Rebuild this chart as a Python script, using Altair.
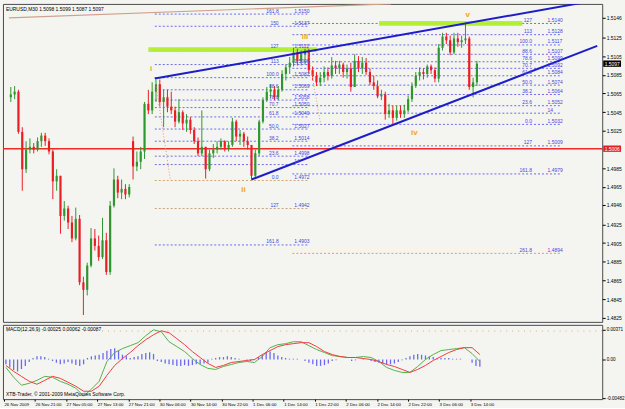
import altair as alt
import pandas as pd

FONT = "Liberation Sans"

# ---------------- hourly candles (EURUSD) ----------------
opens = [1.5061,1.5064,1.5067,1.5024,1.4984,1.5005,1.5008,1.5005,1.5014,1.5020,
         1.5014,1.5003,1.4971,1.4977,1.4934,1.4942,1.4927,1.4910,1.4931,1.4863,
         1.4855,1.4881,1.4910,1.4902,1.4890,1.4908,1.4874,1.4945,1.4973,1.4959,
         1.4963,1.4957,1.5014,1.4987,1.4992,1.5003,1.5054,1.5047,1.5067,1.5075,
         1.5056,1.5061,1.5051,1.5047,1.5035,1.5045,1.5033,1.5037,1.5026,1.5014,
         1.5001,1.5008,1.4984,1.5001,1.5005,1.5008,1.5014,1.5007,1.5010,1.5035,
         1.5019,1.5022,1.5014,1.5010,1.4977,1.5001,1.5035,1.5058,1.5067,1.5069,
         1.5061,1.5069,1.5086,1.5093,1.5098,1.5109,1.5100,1.5107,1.5111,1.5090,
         1.5084,1.5077,1.5082,1.5088,1.5084,1.5095,1.5092,1.5096,1.5088,1.5092,
         1.5072,1.5100,1.5092,1.5098,1.5088,1.5077,1.5073,1.5062,1.5064,1.5043,
         1.5047,1.5039,1.5047,1.5043,1.5047,1.5059,1.5073,1.5084,1.5088,1.5086,
         1.5094,1.5090,1.5081,1.5114,1.5126,1.5122,1.5109,1.5124,1.5120,1.5122,
         1.5124,1.5072,1.5077]
highs = [1.5072,1.5073,1.5069,1.5029,1.5014,1.5017,1.5012,1.5018,1.5023,1.5023,
         1.5017,1.5005,1.4984,1.4977,1.4950,1.4945,1.4934,1.4943,1.4935,1.4869,
         1.4884,1.4921,1.4920,1.4913,1.4932,1.4916,1.4950,1.4985,1.4977,1.4973,
         1.4968,1.4968,1.5019,1.5003,1.5008,1.5056,1.5069,1.5077,1.5080,1.5080,
         1.5069,1.5069,1.5067,1.5051,1.5059,1.5047,1.5043,1.5040,1.5029,1.5018,
         1.5047,1.5008,1.5005,1.5011,1.5014,1.5017,1.5015,1.5014,1.5039,1.5037,
         1.5026,1.5024,1.5019,1.5010,1.5005,1.5037,1.5061,1.5072,1.5075,1.5073,
         1.5073,1.5090,1.5096,1.5104,1.5114,1.5113,1.5111,1.5113,1.5113,1.5094,
         1.5088,1.5088,1.5094,1.5093,1.5104,1.5100,1.5100,1.5098,1.5096,1.5098,
         1.5107,1.5105,1.5104,1.5103,1.5092,1.5084,1.5079,1.5069,1.5067,1.5054,
         1.5052,1.5052,1.5052,1.5053,1.5063,1.5077,1.5088,1.5093,1.5092,1.5096,
         1.5096,1.5093,1.5118,1.5130,1.5130,1.5127,1.5130,1.5130,1.5127,1.5141,
         1.5126,1.5082,1.5100]
lows = [1.5056,1.5059,1.5022,1.4961,1.4980,1.5001,1.5001,1.5003,1.5008,1.5009,
        1.5000,1.4952,1.4961,1.4915,1.4929,1.4920,1.4906,1.4908,1.4860,1.4828,
        1.4849,1.4879,1.4897,1.4886,1.4888,1.4871,1.4871,1.4943,1.4953,1.4952,
        1.4952,1.4954,1.4973,1.4982,1.4984,1.4995,1.5043,1.5043,1.5056,1.5051,
        1.5029,1.5045,1.5043,1.5029,1.5033,1.5026,1.5024,1.5022,1.5011,1.4998,
        1.4998,1.4974,1.4982,1.4996,1.5001,1.5005,1.5003,1.5003,1.5008,1.5014,
        1.5010,1.5008,1.5005,1.4973,1.4975,1.4998,1.5033,1.5056,1.5060,1.5058,
        1.5058,1.5067,1.5079,1.5086,1.5094,1.5095,1.5095,1.5096,1.5086,1.5079,
        1.5073,1.5073,1.5077,1.5079,1.5081,1.5086,1.5086,1.5082,1.5081,1.5067,
        1.5072,1.5088,1.5086,1.5085,1.5074,1.5069,1.5060,1.5058,1.5037,1.5039,
        1.5032,1.5036,1.5039,1.5039,1.5045,1.5056,1.5071,1.5079,1.5080,1.5082,
        1.5086,1.5077,1.5077,1.5111,1.5118,1.5106,1.5107,1.5115,1.5114,1.5118,
        1.5069,1.5061,1.5073]
closes = [1.5064,1.5067,1.5024,1.4984,1.5005,1.5008,1.5005,1.5014,1.5020,1.5014,
          1.5003,1.4971,1.4977,1.4934,1.4942,1.4927,1.4910,1.4931,1.4863,1.4855,
          1.4881,1.4910,1.4902,1.4890,1.4908,1.4874,1.4945,1.4973,1.4959,1.4963,
          1.4957,1.4965,1.4987,1.4992,1.5003,1.5054,1.5047,1.5067,1.5075,1.5056,
          1.5061,1.5051,1.5047,1.5035,1.5045,1.5033,1.5037,1.5026,1.5014,1.5001,
          1.5008,1.4984,1.5001,1.5005,1.5008,1.5014,1.5007,1.5010,1.5035,1.5019,
          1.5022,1.5014,1.5010,1.4977,1.5001,1.5035,1.5058,1.5067,1.5069,1.5061,
          1.5069,1.5086,1.5093,1.5098,1.5109,1.5100,1.5107,1.5111,1.5090,1.5084,
          1.5077,1.5082,1.5088,1.5084,1.5095,1.5092,1.5096,1.5088,1.5092,1.5072,
          1.5100,1.5092,1.5098,1.5088,1.5077,1.5073,1.5062,1.5064,1.5043,1.5047,
          1.5039,1.5047,1.5043,1.5047,1.5059,1.5073,1.5084,1.5088,1.5086,1.5094,
          1.5090,1.5081,1.5114,1.5126,1.5122,1.5109,1.5124,1.5120,1.5122,1.5124,
          1.5072,1.5077,1.5097]

# ---------------- MACD (lines sampled every second candle) ----------------
macd_main = [-0.00099,-0.00222,-0.00321,-0.00297,-0.00260,-0.00210,-0.00222,-0.00272,
             -0.00309,-0.00358,-0.00457,-0.00371,-0.00272,-0.00025,0.00087,0.00136,
             0.00173,0.00210,0.00297,0.00371,0.00346,0.00222,0.00161,0.00099,
             0.00012,-0.00062,-0.00111,-0.00124,-0.00087,-0.00062,-0.00037,-0.00025,
             -0.00037,0.00037,0.00148,0.00185,0.00198,0.00222,0.00222,0.00173,
             0.00124,0.00087,0.00049,0.00037,0.00025,0.00025,0.00037,0.00025,
             -0.00025,-0.00099,-0.00136,-0.00161,-0.00161,-0.00087,0.00000,0.00062,
             0.00111,0.00124,0.00136,0.00148,0.00074,-0.00025]
macd_signal = [-0.00074,-0.00148,-0.00210,-0.00272,-0.00309,-0.00260,-0.00210,-0.00235,
               -0.00284,-0.00334,-0.00396,-0.00396,-0.00334,-0.00198,-0.00074,0.00012,
               0.00087,0.00173,0.00247,0.00309,0.00358,0.00334,0.00260,0.00185,
               0.00099,0.00025,-0.00049,-0.00099,-0.00074,-0.00037,-0.00025,-0.00012,
               0.00000,0.00062,0.00111,0.00161,0.00185,0.00198,0.00210,0.00210,
               0.00161,0.00099,0.00062,0.00037,0.00025,0.00025,0.00012,0.00000,
               -0.00025,-0.00062,-0.00087,-0.00124,-0.00161,-0.00124,-0.00074,-0.00012,
               0.00037,0.00087,0.00124,0.00148,0.00148,0.00062]
macd_hist = [-0.0006,-0.0010,-0.0013,-0.0015,-0.0012,-0.0008,-0.0003,0.0002,0.0004,0.0004,
             0.0003,0.0001,-0.0002,-0.0004,-0.0006,-0.0005,-0.0003,-0.0005,-0.0007,-0.0008,
             -0.0006,0.0002,0.0004,0.0005,0.0006,0.0008,0.0011,0.0013,0.0014,0.0011,
             0.0006,0.0004,0.0002,0.0003,0.0004,0.0007,0.0008,0.0009,0.0007,-0.0002,
             -0.0003,-0.0005,-0.0006,-0.0007,-0.0008,-0.0008,-0.0007,-0.0008,-0.0007,-0.0006,
             -0.0006,-0.0005,-0.0004,0.0001,0.0002,0.0003,0.0003,0.0004,0.0003,0.0002,
             0.0001,0.0000,-0.0001,-0.0002,-0.0001,0.0003,0.0006,0.0009,0.0010,0.0008,
             0.0005,0.0003,0.0002,0.0001,0.0001,0.0001,0.0000,-0.0002,-0.0004,-0.0006,
             -0.0008,-0.0008,-0.0007,-0.0005,-0.0002,-0.0001,0.0000,0.0000,0.0000,-0.0002,
             -0.0001,0.0000,0.0001,0.0000,-0.0002,-0.0003,-0.0004,-0.0005,-0.0006,-0.0006,
             -0.0005,-0.0003,-0.0001,0.0002,0.0004,0.0006,0.0007,0.0006,0.0005,0.0004,
             0.0003,0.0001,0.0002,0.0002,0.0002,0.0001,0.0001,0.0001,0.0000,0.0000,
             -0.0004,-0.0008,-0.0009]
macd_level = [0.00355]

# ---------------- axes texts ----------------
price_ticks = [1.5146,1.5125,1.5105,1.5085,1.5065,1.5045,1.5025,1.4985,
               1.4965,1.4946,1.4925,1.4905,1.4885,1.4865,1.4845,1.4825]
macd_ticks = [0.00371, 0.0, -0.00482]
macd_tick_labels = ["0.00371", "0.00", "-0.00482"]
date_labels = ["26 Nov 2009","26 Nov 21:00","27 Nov 05:00","27 Nov 13:00","27 Nov 21:00",
               "30 Nov 06:00","30 Nov 14:00","30 Nov 22:00","1 Dec 06:00","1 Dec 14:00",
               "1 Dec 22:00","2 Dec 06:00","2 Dec 14:00","2 Dec 22:00","3 Dec 06:00",
               "3 Dec 14:00"]
header_text = "EURUSD,M30  1.5098 1.5099 1.5087 1.5097"
macd_header = "MACD(12,26,9) -0.00025 0.00062 -0.00087"
footer_text = "XTB-Trader, \u00a9 2001-2009 MetaQuotes Software Corp."

# ---------------- Fibonacci levels ----------------
left_fib_level = ["161.8","150","127","113","100.0","88.6","78.6","70.7","61.8","50.0",
                  "38.2","23.6","","0.0","127","161.8"]
left_fib_text = ["1.5150","1.5137","1.5112","1.5096","1.5082","1.5069","1.5058","1.5050",
                 "1.5040","1.5027","1.5014","1.4998","14","1.4972","1.4942","1.4903"]
left_fib_price = [1.5150,1.5137,1.5112,1.5096,1.5082,1.5069,1.5058,1.5050,1.5040,1.5027,
                  1.5014,1.4998,1.4989,1.4972,1.4942,1.4903]
left_fib_span = [38.2, 78.5]
right_fib_level = ["127","113","100.0","88.6","78.6","70.7","61.8","50.0","38.2","23.6",
                   "","0.0","127","161.8","261.8"]
right_fib_text = ["1.5140","1.5128","1.5117","1.5107","1.5099","1.5092","1.5084","1.5074",
                  "1.5064","1.5052","14","1.5032","1.5009","1.4979","1.4894"]
right_fib_price = [1.5140,1.5128,1.5117,1.5107,1.5099,1.5092,1.5084,1.5074,1.5064,1.5052,
                   1.5044,1.5032,1.5009,1.4979,1.4894]
right_fib_span = [74.2, 144.3]
tan_levels = [1.4972, 1.4942, 1.4894]

# highlighted target zones (hour start, hour end, price)
zone_start = [36.5, 96.9]
zone_end = [80.6, 134.4]
zone_price = [1.5112, 1.5140]

# waves
wave_text = ["i", "ii", "iii", "iv", "v"]
wave_hour = [37.2, 61.4, 77.5, 106.1, 120.1]
wave_price = [1.5091, 1.4962, 1.5126, 1.5023, 1.5149]

# channel lines and fib anchor lines: (id, hour, price)
channel_id = ["up", "up", "low", "low"]
channel_hour = [38.2, 154.0, 63.5, 154.0]
channel_price = [1.5081, 1.5165, 1.4973, 1.5116]
anchor_id = ["a", "a", "b", "b"]
anchor_hour = [38.2, 42.3, 78.0, 81.6]
anchor_price = [1.5082, 1.4972, 1.5117, 1.5032]
old_trend_hour = [0.0, 100.0]
old_trend_price = [1.5146, 1.5161]

hline_price = 1.5006
last_price = 1.5097

# ---------------- data tables ----------------
n = len(opens)
cdf = pd.DataFrame({
    "h": [k + 0.5 for k in range(n)],
    "open": opens, "high": highs, "low": lows, "close": closes,
})
cdf["dir"] = ["up" if c >= o else "down" for o, c in zip(opens, closes)]

fib_rows = []
for lv, tx, p in zip(left_fib_level, left_fib_text, left_fib_price):
    fib_rows.append(dict(level=lv, txt=tx, price=p, x0=left_fib_span[0], x1=left_fib_span[1],
                         nx=70.6, vx=74.7,
                         lc="#D2A070" if p in tan_levels else "#6A6AF2"))
for lv, tx, p in zip(right_fib_level, right_fib_text, right_fib_price):
    fib_rows.append(dict(level=lv, txt=tx, price=p, x0=right_fib_span[0], x1=right_fib_span[1],
                         nx=136.9, vx=141.0,
                         lc="#D2A070" if p in tan_levels else "#6A6AF2"))
fdf = pd.DataFrame(fib_rows)

zdf = pd.DataFrame({"x0": zone_start, "x1": zone_end,
                    "p0": [p - 0.00025 for p in zone_price],
                    "p1": [p + 0.00025 for p in zone_price]})
wdf = pd.DataFrame({"t": wave_text, "h": wave_hour, "price": wave_price})
chdf = pd.DataFrame({"id": channel_id, "h": channel_hour, "price": channel_price})
andf = pd.DataFrame({"id": anchor_id, "h": anchor_hour, "price": anchor_price})
otdf = pd.DataFrame({"h": old_trend_hour, "price": old_trend_price})
hdf = pd.DataFrame({"price": [hline_price]})
boxdf = pd.DataFrame({
    "price": [hline_price, last_price],
    "p0": [hline_price - 0.00034, last_price - 0.00034],
    "p1": [hline_price + 0.00034, last_price + 0.00034],
    "txt": [f"{hline_price:.4f}", f"{last_price:.4f}"],
    "fill": ["#E02020", "#000000"],
})

xscale = alt.Scale(domain=[-0.255, 154.0], nice=False, zero=False)
yscale = alt.Scale(domain=[1.48207, 1.51609], nice=False, zero=False)

price_axis = alt.Axis(orient="right", values=price_ticks, format=".4f", labelFontSize=5,
                      labelFont=FONT, tickSize=3, tickColor="#000000", labelColor="#000000",
                      domain=False, grid=False, title=None, labelPadding=1,
                      labelOverlap=False, labelFlush=False)


def X(f):
    return alt.X(f, type="quantitative", scale=xscale, axis=None)


def Y(f):
    return alt.Y(f, type="quantitative", scale=yscale, axis=price_axis)


old_trend = alt.Chart(otdf).mark_line(color="#CFA08E", strokeWidth=1.2, clip=True).encode(
    x=X("h"), y=Y("price"))

fib_lines = alt.Chart(fdf).mark_rule(strokeDash=[2, 2], strokeWidth=1).encode(
    x=X("x0"), x2="x1:Q", y=Y("price"), color=alt.Color("lc:N", scale=None))

zones = alt.Chart(zdf).mark_rect(color="#B2EE2C", opacity=0.95).encode(
    x=X("x0"), x2="x1:Q", y=Y("p0"), y2="p1:Q")

hline = alt.Chart(hdf).mark_rule(color="#EE2A2A", strokeWidth=1.5).encode(y=Y("price"))

cscale = alt.Scale(domain=["up", "down"], range=["#2F962F", "#EC1C24"])
wicks = alt.Chart(cdf).mark_rule(strokeWidth=1).encode(
    x=X("h"), y=Y("low"), y2="high:Q", color=alt.Color("dir:N", scale=cscale, legend=None))
bodies = alt.Chart(cdf).mark_bar(size=2.2).encode(
    x=X("h"), y=Y("open"), y2="close:Q", color=alt.Color("dir:N", scale=cscale, legend=None))

anchors = alt.Chart(andf).mark_line(color="#E8907C", strokeDash=[1, 2], strokeWidth=1).encode(
    x=X("h"), y=Y("price"), detail="id:N")

channel = alt.Chart(chdf).mark_line(color="#1E1EC8", strokeWidth=2, clip=True).encode(
    x=X("h"), y=Y("price"), detail="id:N")

fib_names = alt.Chart(fdf).mark_text(fontSize=5, font=FONT, color="#4646E0", align="right",
                                     baseline="bottom", dy=-0.5).encode(
    x=X("nx"), y=Y("price"), text="level:N")
fib_vals = alt.Chart(fdf).mark_text(fontSize=5, font=FONT, color="#4646E0", align="left",
                                    baseline="bottom", dy=-0.5).encode(
    x=X("vx"), y=Y("price"), text="txt:N")

waves = alt.Chart(wdf).mark_text(fontSize=8, font=FONT, fontWeight="bold", color="#F4A21E",
                                 align="center", baseline="middle").encode(
    x=X("h"), y=Y("price"), text="t:N")

header = alt.Chart(pd.DataFrame({"t": [header_text]})).mark_text(
    fontSize=5, font=FONT, color="#000000", align="left", baseline="top").encode(
    x=alt.value(3), y=alt.value(3), text="t:N")

boxes = alt.Chart(boxdf).mark_rect(clip=False).encode(
    x=alt.value(606), x2=alt.value(624), y=Y("p0"), y2="p1:Q",
    color=alt.Color("fill:N", scale=None))
box_txt = alt.Chart(boxdf).mark_text(fontSize=5, font=FONT, color="#FFFFFF", align="left",
                                     baseline="middle").encode(
    x=alt.value(607.5), y=Y("price"), text="txt:N")

main = alt.layer(old_trend, fib_lines, zones, hline, wicks, bodies, anchors, channel,
                 fib_names, fib_vals, waves, header, boxes, box_txt).properties(
    width=605, height=321)

# ---------------- MACD panel ----------------
mscale = alt.Scale(domain=[-0.004945, 0.004327], nice=False, zero=False)
date_expr = "[" + ",".join("'" + s + "'" for s in date_labels) + "][round(datum.value / 8)]"
date_axis = alt.Axis(orient="bottom", values=[8 * i for i in range(len(date_labels))],
                     labelExpr=date_expr, labelAlign="left", labelFontSize=4.4, labelFont=FONT,
                     labelColor="#000000", tickSize=2, tickColor="#000000", domain=False,
                     grid=False, title=None, labelPadding=1, labelOverlap=False,
                     labelFlush=False)
macd_expr = ("[" + ",".join("'" + s + "'" for s in macd_tick_labels) + "][indexof(["
             + ",".join(str(v) for v in macd_ticks) + "], datum.value)]")
macd_axis = alt.Axis(orient="right", values=macd_ticks, labelExpr=macd_expr, labelFontSize=4.6,
                     labelFont=FONT, labelColor="#000000", tickSize=3, tickColor="#000000",
                     domain=False, grid=False, title=None, labelPadding=1,
                     labelOverlap=False, labelFlush=False)


def MX(f):
    return alt.X(f, type="quantitative", scale=xscale, axis=date_axis)


def MY(f):
    return alt.Y(f, type="quantitative", scale=mscale, axis=macd_axis)


hdf2 = pd.DataFrame({"h": [k + 0.5 for k in range(len(macd_hist))], "hist": macd_hist,
                     "zero": [0.0] * len(macd_hist)})
ldf = pd.DataFrame({"h": [2 * k + 0.5 for k in range(len(macd_main))],
                    "main": macd_main, "signal": macd_signal})
lvdf = pd.DataFrame({"v": macd_level})

hist = alt.Chart(hdf2).mark_rule(strokeWidth=1.3, color="#6A6AF0").encode(
    x=MX("h"), y=MY("zero"), y2="hist:Q")
level = alt.Chart(lvdf).mark_rule(strokeDash=[1, 5], color="#F0A850", strokeWidth=1).encode(
    y=MY("v"))
l_main = alt.Chart(ldf).mark_line(color="#55B04A", strokeWidth=1).encode(
    x=MX("h"), y=MY("main"))
l_sig = alt.Chart(ldf).mark_line(color="#F03C3C", strokeWidth=1).encode(
    x=MX("h"), y=MY("signal"))
mhead = alt.Chart(pd.DataFrame({"t": [macd_header]})).mark_text(
    fontSize=5, font=FONT, color="#000000", align="left", baseline="top").encode(
    x=alt.value(3), y=alt.value(2), text="t:N")
mfoot = alt.Chart(pd.DataFrame({"t": [footer_text]})).mark_text(
    fontSize=5, font=FONT, color="#000000", align="left", baseline="bottom").encode(
    x=alt.value(3), y=alt.value(73), text="t:N")

macd = alt.layer(hist, level, l_main, l_sig, mhead, mfoot).properties(width=605, height=75)

chart = alt.vconcat(main, macd, spacing=3, bounds="flush").properties(
    padding={"left": 1, "top": 1, "right": 0, "bottom": 0},
    background="#F4F5F1",
).configure_view(stroke="#4A4A4A", strokeWidth=1, fill="#F4F5F1")

chart.save("out.html", embed_options={"renderer": "svg", "actions": False})
